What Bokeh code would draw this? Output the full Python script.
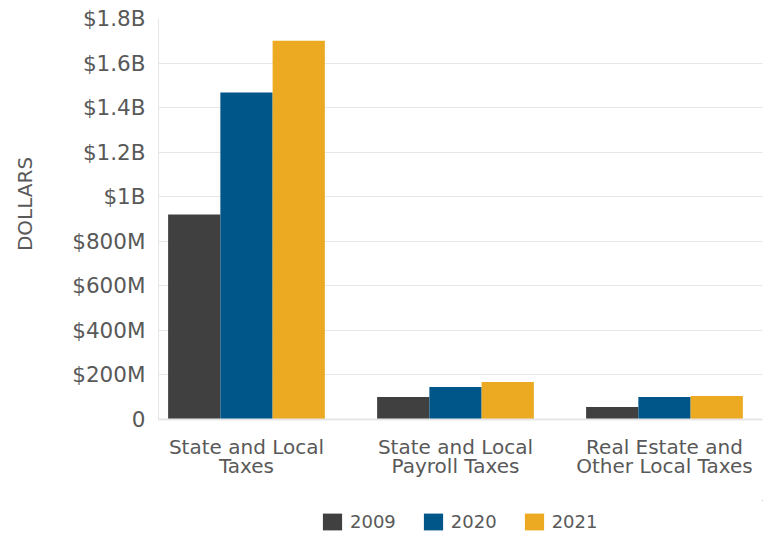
import math
from bokeh.plotting import figure
from bokeh.layouts import column, row
from bokeh.models import Range1d, FixedTicker, Legend, LegendItem, ColumnDataSource, Label
from bokeh.transform import dodge
from bokeh.embed import file_html
from bokeh.resources import INLINE

# ---- data ----
categories = ["State and Local\nTaxes", "State and Local\nPayroll Taxes", "Real Estate and\nOther Local Taxes"]
years = ["2009", "2020", "2021"]
v2009 = [0.92e9, 0.101e9, 0.056e9]
v2020 = [1.468e9, 0.146e9, 0.101e9]
v2021 = [1.70e9, 0.168e9, 0.105e9]
y_ticks = [0, 2e8, 4e8, 6e8, 8e8, 1e9, 1.2e9, 1.4e9, 1.6e9, 1.8e9]
y_tick_labels = ["0", "$200M", "$400M", "$600M", "$800M", "$1B", "$1.2B", "$1.4B", "$1.6B", "$1.8B"]
y_title = "DOLLARS"
colors = ["#404040", "#005589", "#ebaa22"]

FONT = "DejaVu Sans"
TXT = "#595959"
GRID = "#e6e6e6"

x = [i + 0.5 for i in range(len(categories))]
source = ColumnDataSource(dict(x=x, v2009=v2009, v2020=v2020, v2021=v2021))
series = ["v2009", "v2020", "v2021"]

LAB_W = 40

p = figure(width=770 - LAB_W, height=500,
           x_range=Range1d(0.079, 2.969), y_range=Range1d(0, 1.8e9),
           output_backend="svg", toolbar_location=None,
           min_border_left=158 - LAB_W, min_border_right=8, min_border_top=18, min_border_bottom=81)

bw = 0.25
for off, col, c in zip([-bw, 0, bw], series, colors):
    p.vbar(x=dodge("x", off, range=p.x_range), top=col, width=bw, source=source,
           fill_color=c, line_color=None)

# axes
p.xaxis.ticker = FixedTicker(ticks=x)
p.xaxis.major_label_overrides = {xi: c for xi, c in zip(x, categories)}
p.xaxis.axis_line_color = GRID
p.xaxis.axis_line_width = 2
p.xaxis.major_tick_line_color = None
p.xaxis.major_tick_in = 0
p.xaxis.major_tick_out = 0
p.xaxis.minor_tick_line_color = None
p.xaxis.major_label_text_font = FONT
p.xaxis.major_label_text_font_size = "20px"
p.xaxis.major_label_text_color = TXT
p.xaxis.major_label_text_line_height = 0.8
p.xaxis.major_label_standoff = 15

p.yaxis.ticker = FixedTicker(ticks=y_ticks)
p.yaxis.major_label_overrides = {t: l for t, l in zip(y_ticks, y_tick_labels)}
p.yaxis.axis_line_color = GRID
p.yaxis.major_tick_line_color = None
p.yaxis.major_tick_in = 0
p.yaxis.major_tick_out = 0
p.yaxis.minor_tick_line_color = None
p.yaxis.major_label_text_font = FONT
p.yaxis.major_label_text_font_size = "21.5px"
p.yaxis.major_label_text_color = TXT
p.yaxis.major_label_standoff = 13

p.xgrid.grid_line_color = None
p.ygrid.grid_line_color = GRID
p.outline_line_color = None

# ---- y-axis title strip (left) ----
lab = figure(width=LAB_W, height=500, output_backend="svg", toolbar_location=None,
             x_axis_type=None, y_axis_type=None,
             x_range=Range1d(0, 1), y_range=Range1d(0, 1),
             min_border_left=0, min_border_right=0, min_border_top=18, min_border_bottom=81)
lab.outline_line_color = None
lab.grid.grid_line_color = None
lab.add_layout(Label(text=y_title, x=24.5, y=215.5, x_units="screen", y_units="screen",
                     angle=math.pi / 2, text_align="center", text_baseline="middle",
                     text_font=FONT, text_font_size="20px", text_color=TXT))

# ---- legend strip (its own small figure; bars of the same data kept out of view) ----
lg = figure(width=770 - LAB_W, height=34, output_backend="svg", toolbar_location=None,
            x_axis_type=None, y_axis_type=None,
            x_range=Range1d(-20, -10), y_range=Range1d(-2e9, -1e9),
            min_border_left=0, min_border_right=0, min_border_top=0, min_border_bottom=0)
lg.outline_line_color = None
lg.grid.grid_line_color = None
proxies = [lg.vbar(x="x", top=col, width=bw, source=source, fill_color=c, line_color=None)
           for col, c in zip(series, colors)]
legend = Legend(items=[LegendItem(label=yr, renderers=[r]) for yr, r in zip(years, proxies)],
                orientation="horizontal", location=(162, 2),
                label_text_font=FONT, label_text_font_size="18px", label_text_color=TXT,
                glyph_width=24, glyph_height=21, label_standoff=6, spacing=25,
                padding=0, margin=0, border_line_color=None, background_fill_alpha=0)
lg.add_layout(legend)

open("out.html", "w").write(file_html(row(lab, column(p, lg)), INLINE))
